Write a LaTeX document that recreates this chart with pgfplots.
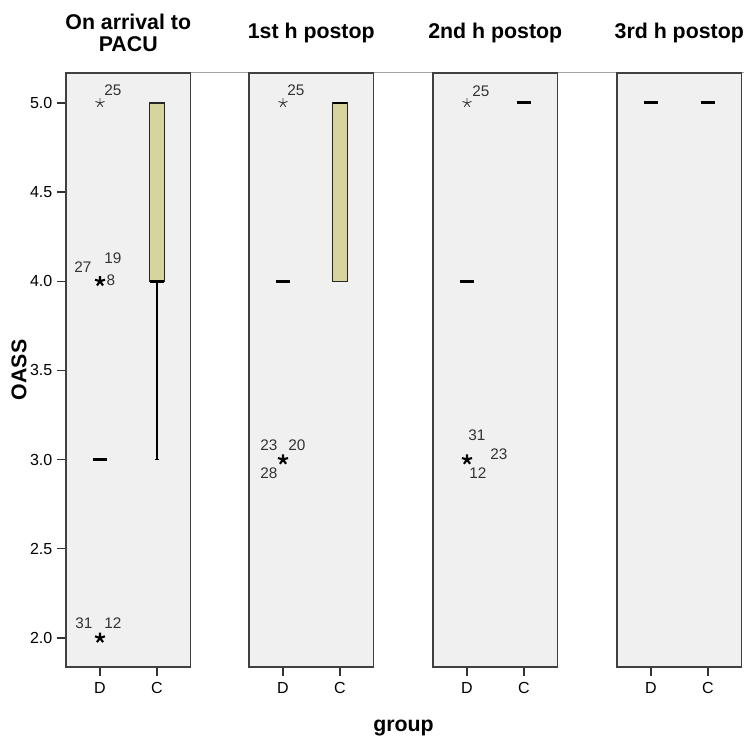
\documentclass[border=0pt]{standalone}
\usepackage{fontspec}
\setmainfont{Liberation Sans}
\usepackage{pgfplots}
\pgfplotsset{compat=1.18}
\usepgfplotslibrary{statistics}
\definecolor{panelbg}{HTML}{F0F0F0}
\definecolor{boxc}{HTML}{D8D49E}
\definecolor{lblc}{HTML}{333333}
\tikzset{lbl/.style={font=\fontsize{11.5}{12}\selectfont, text=lblc, inner sep=0pt}}
\pgfplotsset{
  panel/.style={
    scale only axis, width=93.375pt, height=445.5pt, anchor=south west,
    xmin=0.4035, xmax=2.588, ymin=1.837, ymax=5.168,
    axis background/.style={fill=panelbg},
    axis line style={black!75, line width=1.3pt},
    xtick={1,2}, xticklabels={D,C},
    tick align=outside, major tick length=6.75pt,
    tick style={black!80, line width=1pt},
    xtick pos=left, ytick pos=left,
    xticklabel style={font=\fontsize{12}{12}\selectfont, yshift=-1pt},
    /pgf/number format/assume math mode=true,
    title style={at={(0.5,1)}, anchor=center, yshift=24pt, align=center,
      font=\bfseries\fontsize{16}{17}\selectfont},
    clip=false,
  },
  ext1/.style={only marks, mark=star, mark size=3.6pt, black!75, mark options={line width=0.7pt}},
  extN/.style={only marks, mark=star, mark size=3.9pt, black, mark options={line width=1.6pt}},
  med/.style={black, line width=2.25pt},
  bx/.style={boxplot/draw direction=y,
    boxplot/every box/.style={fill=boxc, draw=black!85, line width=0.9pt},
    boxplot/every whisker/.style={black, line width=1pt},
    boxplot/every median/.style={black, line width=2pt}},
}
\begin{document}
\begin{tikzpicture}
\path[use as bounding box] (0,0) rectangle (558pt,556.5pt);
\draw[gray!70, line width=0.75pt] (143pt,501.75pt) -- (558pt,501.75pt);

% Panel 1
\begin{axis}[panel, at={(49.5pt,56.25pt)},
  title={On arrival to\\PACU},
  ytick={2,2.5,3,3.5,4,4.5,5},
  yticklabel style={font=\fontsize{12}{12}\selectfont,
    /pgf/number format/fixed, /pgf/number format/fixed zerofill,
    /pgf/number format/precision=1},
  ylabel={OASS},
  ylabel style={at={(axis description cs:-0.378,0.5)}, anchor=center,
    font=\bfseries\fontsize{16}{16}\selectfont}]
\addplot[med] coordinates {(0.87,3) (1.13,3)};
\addplot[bx, boxplot prepared={draw position=2, lower whisker=3, lower quartile=4,
  median=4, upper quartile=5, upper whisker=5, box extend=0.26, whisker extend=0.07}]
  coordinates {};
\addplot[ext1] coordinates {(1,5)};
\addplot[extN] coordinates {(1,4) (1,2)};
\node[lbl, xshift=9.75pt, yshift=9.75pt] at (axis cs:1,5) {25};
\node[lbl, xshift=-12.75pt, yshift=10.5pt] at (axis cs:1,4) {27};
\node[lbl, xshift=9.75pt, yshift=17.25pt] at (axis cs:1,4) {19};
\node[lbl, xshift=8.25pt, yshift=0.75pt] at (axis cs:1,4) {8};
\node[lbl, xshift=-12pt, yshift=11.25pt] at (axis cs:1,2) {31};
\node[lbl, xshift=9.75pt, yshift=11.25pt] at (axis cs:1,2) {12};
\end{axis}

% Panel 2
\begin{axis}[panel, at={(186.75pt,56.25pt)}, title={1st h postop}, ytick=\empty]
\addplot[med] coordinates {(0.87,4) (1.13,4)};
\addplot[bx, boxplot prepared={draw position=2, lower whisker=4, lower quartile=4,
  median=5, upper quartile=5, upper whisker=5, box extend=0.26, whisker extend=0.07}]
  coordinates {};
\addplot[ext1] coordinates {(1,5)};
\addplot[extN] coordinates {(1,3)};
\node[lbl, xshift=9.75pt, yshift=9.75pt] at (axis cs:1,5) {25};
\node[lbl, xshift=-10.5pt, yshift=10.5pt] at (axis cs:1,3) {23};
\node[lbl, xshift=10.5pt, yshift=10.5pt] at (axis cs:1,3) {20};
\node[lbl, xshift=-10.5pt, yshift=-10.5pt] at (axis cs:1,3) {28};
\end{axis}

% Panel 3
\begin{axis}[panel, at={(324.75pt,56.25pt)}, title={2nd h postop}, ytick=\empty]
\addplot[med] coordinates {(0.87,4) (1.13,4)};
\addplot[med] coordinates {(1.87,5) (2.13,5)};
\addplot[ext1] coordinates {(1,5)};
\addplot[extN] coordinates {(1,3)};
\node[lbl, xshift=10.5pt, yshift=9pt] at (axis cs:1,5) {25};
\node[lbl, xshift=7.5pt, yshift=18pt] at (axis cs:1,3) {31};
\node[lbl, xshift=24pt, yshift=3.75pt] at (axis cs:1,3) {23};
\node[lbl, xshift=8.25pt, yshift=-10.5pt] at (axis cs:1,3) {12};
\end{axis}

% Panel 4
\begin{axis}[panel, at={(462.75pt,56.25pt)}, title={3rd h postop}, ytick=\empty]
\addplot[med] coordinates {(0.87,5) (1.13,5)};
\addplot[med] coordinates {(1.87,5) (2.13,5)};
\end{axis}

\node[font=\bfseries\fontsize{16}{16}\selectfont] at (302.6pt,10.5pt) {group};
\end{tikzpicture}
\end{document}
